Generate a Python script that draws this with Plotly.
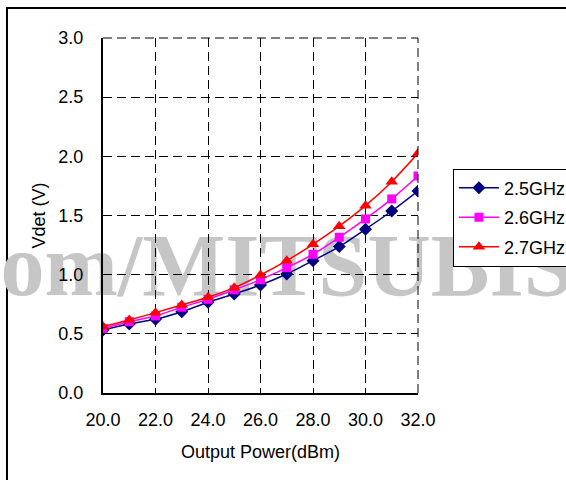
import plotly.graph_objects as go

# Detector output voltage vs. output power, per frequency
power_dbm = [20, 21, 22, 23, 24, 25, 26, 27, 28, 29, 30, 31, 32]
vdet_25ghz = [0.532, 0.583, 0.623, 0.687, 0.767, 0.837, 0.913, 1.006, 1.118, 1.237, 1.384, 1.538, 1.707]
vdet_26ghz = [0.545, 0.603, 0.651, 0.725, 0.792, 0.872, 0.958, 1.059, 1.172, 1.316, 1.471, 1.640, 1.834]
vdet_27ghz = [0.562, 0.617, 0.679, 0.744, 0.809, 0.890, 0.997, 1.118, 1.257, 1.410, 1.583, 1.786, 2.026]

series = [
    ("2.5GHz", vdet_25ghz, "#000080", "diamond", 10),
    ("2.6GHz", vdet_26ghz, "#FF00FF", "square", 9),
    ("2.7GHz", vdet_27ghz, "#FF0000", "triangle-up", 11),
]

font_family = "Liberation Sans, Arial, sans-serif"

fig = go.Figure()
for i, (name, vals, color, symbol, size) in enumerate(series):
    fig.add_trace(go.Scatter(
        x=power_dbm, y=vals, name=name, mode="lines+markers",
        legendgroup=f"g{i}",
        line=dict(color=color, width=1.5, shape="spline", smoothing=0.6),
        marker=dict(color=color, symbol=symbol, size=size, line=dict(width=0)),
    ))

grid_style = dict(
    showgrid=True, gridcolor="black", gridwidth=1, griddash="9px,5px",
    showline=True, linecolor="black", linewidth=2, mirror=False,
    ticks="", zeroline=False, tickformat=".1f",
    tickfont=dict(family=font_family, size=18, color="black"),
)

fig.update_xaxes(range=[20, 32], dtick=2, tick0=20, ticklabelstandoff=9,
                 title=dict(text="Output Power(dBm)", standoff=17,
                            font=dict(family=font_family, size=18, color="black")),
                 **grid_style)
fig.update_yaxes(range=[0, 3], dtick=0.5, tick0=0, ticklabelstandoff=14,
                 title=dict(text="Vdet (V)", standoff=8,
                            font=dict(family=font_family, size=18, color="black")),
                 **grid_style)

# Dashed grid lines along the top and right edges of the plot box
edge_dash = dict(color="black", width=1, dash="9px,5px")
fig.add_shape(type="line", xref="paper", yref="paper", x0=0, x1=1, y0=1, y1=1, line=edge_dash)
fig.add_shape(type="line", xref="paper", yref="paper", x0=1, x1=1, y0=0, y1=1, line=edge_dash)

# Outer chart frame
fig.add_shape(type="rect", xref="paper", yref="paper",
              x0=-0.3048, x1=2.0, y0=-0.6, y1=1.0845,
              line=dict(color="black", width=2), fillcolor="rgba(0,0,0,0)", layer="below")

# Watermark text behind the plot
fig.add_shape(type="rect", xref="paper", yref="paper",
              x0=-0.335, x1=1.47, y0=0.276, y1=0.5014,
              line=dict(width=0), fillcolor="rgba(0,0,0,0)", layer="below",
              label=dict(text="<b>om/MITSUBIS</b>", textposition="middle left", padding=0,
                         font=dict(family="Liberation Serif, Times New Roman, serif",
                                   size=88, color="rgb(198,198,198)")))

fig.update_layout(
    width=566, height=480,
    margin=dict(l=103, r=148, t=38, b=87, autoexpand=False),
    paper_bgcolor="white", plot_bgcolor="rgba(0,0,0,0)",
    showlegend=True,
    legend=dict(x=1.111, y=0.632, xanchor="left", yanchor="top",
                bgcolor="white", bordercolor="black", borderwidth=1,
                font=dict(family=font_family, size=18, color="black"),
                itemwidth=40, tracegroupgap=3, traceorder="grouped"),
)

fig.write_html("out.html")
